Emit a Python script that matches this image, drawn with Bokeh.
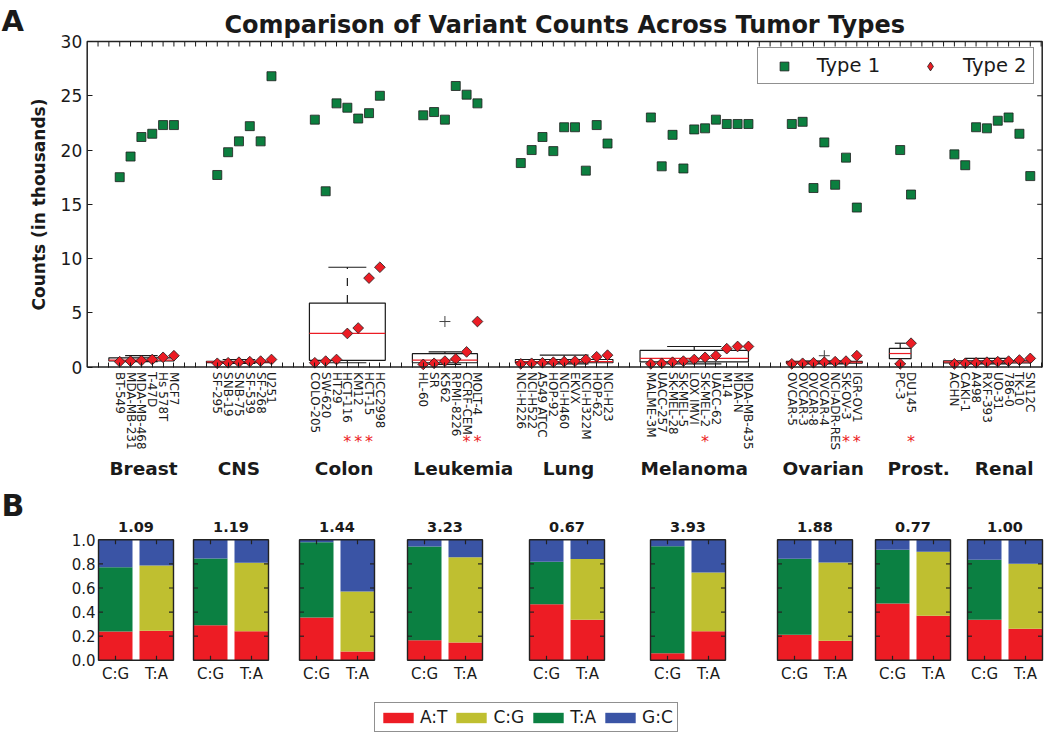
import numpy as np
from bokeh.plotting import figure
from bokeh.models import (Range1d, FixedTicker, PrintfTickFormatter, Legend, LegendItem,
                          ColumnDataSource, AllLabels)
from bokeh.layouts import column
from bokeh.embed import file_html
from bokeh.resources import INLINE
from bokeh.core.properties import value

# ---------------- data ----------------
tumor_types = ["Breast", "CNS", "Colon", "Leukemia", "Lung", "Melanoma", "Ovarian", "Prost.", "Renal"]

breast_lines = ["BT-549", "MDA-MB-231", "MDA-MB-468", "T-47D", "Hs 578T", "MCF7"]
cns_lines = ["SF-295", "SNB-19", "SNB-75", "SF-539", "SF-268", "U251"]
colon_lines = ["COLO-205", "SW-620", "HT29", "HCT-116", "KM12", "HCT-15", "HCC2998"]
leukemia_lines = ["HL-60", "SR", "K562", "RPMI-8226", "CCRF-CEM", "MOLT-4"]
lung_lines = ["NCI-H226", "NCI-H522", "A549 ATCC", "HOP-92", "NCI-H460", "EKVX", "NCI-H322M", "HOP-62", "NCI-H23"]
melanoma_lines = ["MALME-3M", "UACC-257", "SK-MEL-28", "SK-MEL-5", "LOX IMVI", "SK-MEL-2", "UACC-62", "M14", "MDA-N", "MDA-MB-435"]
ovarian_lines = ["OVCAR-5", "OVCAR-3", "OVCAR-8", "OVCAR-4", "NCI-ADR-RES", "SK-OV-3", "IGR-OV1"]
prost_lines = ["PC-3", "DU145"]
renal_lines = ["ACHN", "CAKI-1", "A498", "RXF-393", "UO-31", "786-0", "TK-10", "SN12C"]

breast_type1 = [17.5, 19.4, 21.2, 21.5, 22.3, 22.3]
cns_type1 = [17.7, 19.8, 20.8, 22.2, 20.8, 26.8]
colon_type1 = [22.8, 16.2, 24.3, 23.9, 22.9, 23.4, 25.0]
leukemia_type1 = [23.2, 23.5, 22.8, 25.9, 25.1, 24.3]
lung_type1 = [18.8, 20.0, 21.2, 19.9, 22.1, 22.1, 18.1, 22.3, 20.6]
melanoma_type1 = [23.0, 18.5, 21.4, 18.3, 21.9, 22.0, 22.8, 22.4, 22.4, 22.4]
ovarian_type1 = [22.4, 22.6, 16.5, 20.7, 16.8, 19.3, 14.7]
prost_type1 = [20.0, 15.9]
renal_type1 = [19.6, 18.6, 22.1, 22.0, 22.7, 23.0, 21.5, 17.6]

breast_type2 = [0.5, 0.55, 0.6, 0.7, 0.9, 1.05]
cns_type2 = [0.35, 0.4, 0.45, 0.5, 0.55, 0.7]
colon_type2 = [0.4, 0.55, 0.7, 3.1, 3.6, 8.2, 9.2]
leukemia_type2 = [0.25, 0.35, 0.55, 0.75, 1.4, 4.2]
lung_type2 = [0.3, 0.35, 0.4, 0.45, 0.5, 0.55, 0.7, 0.95, 1.1]
melanoma_type2 = [0.3, 0.35, 0.45, 0.55, 0.7, 0.9, 1.05, 1.7, 1.9, 1.9]
ovarian_type2 = [0.3, 0.35, 0.4, 0.45, 0.5, 0.55, 1.05]
prost_type2 = [0.3, 2.2]
renal_type2 = [0.3, 0.35, 0.4, 0.45, 0.5, 0.55, 0.65, 0.8]

significant_lines = ["HCT-116", "KM12", "HCT-15", "CCRF-CEM", "MOLT-4", "SK-MEL-2", "SK-OV-3", "IGR-OV1", "DU145"]

# panel B: fraction of substitutions per reference base pair
ratios = [1.09, 1.19, 1.44, 3.23, 0.67, 3.93, 1.88, 0.77, 1.00]
bar_names = ["C:G", "T:A"]
cg_to_at = [0.240, 0.290, 0.355, 0.167, 0.466, 0.059, 0.212, 0.472, 0.336]
cg_to_ta = [0.533, 0.554, 0.625, 0.777, 0.352, 0.888, 0.631, 0.446, 0.498]
cg_to_gc = [0.227, 0.156, 0.020, 0.056, 0.182, 0.053, 0.157, 0.082, 0.166]
ta_to_at = [0.245, 0.242, 0.073, 0.148, 0.336, 0.242, 0.162, 0.369, 0.261]
ta_to_cg = [0.542, 0.567, 0.498, 0.708, 0.504, 0.487, 0.650, 0.532, 0.540]
ta_to_gc = [0.213, 0.191, 0.429, 0.144, 0.160, 0.271, 0.188, 0.099, 0.199]
mutation_names = ["A:T", "C:G", "T:A", "G:C"]

cell_lines = [breast_lines, cns_lines, colon_lines, leukemia_lines, lung_lines,
              melanoma_lines, ovarian_lines, prost_lines, renal_lines]
type1 = [breast_type1, cns_type1, colon_type1, leukemia_type1, lung_type1,
         melanoma_type1, ovarian_type1, prost_type1, renal_type1]
type2 = [breast_type2, cns_type2, colon_type2, leukemia_type2, lung_type2,
         melanoma_type2, ovarian_type2, prost_type2, renal_type2]

# ---------------- style / layout ----------------
FONT = "DejaVu Sans"
INK = "#1a1a1a"
GREEN = "#0c7f3f"
RED = "#ec1c24"
C_AT = "#ed1c24"
C_CG = "#bfbf30"
C_TA = "#0b8042"
C_GC = "#3a54a5"
GAP = 3
W, H_TOP, H_BOT = 1050, 485, 252
group_label_x = [2.2, 11.0, 20.7, 31.7, 41.4, 53.0, 64.9, 73.7, 81.6]
panel_left = [98, 193, 299, 407, 529, 650, 777, 875, 967]
PANEL_W = 75
BAR_W = 34

def bl(py, size):
    """pixel row for an 'alphabetic' text anchor so that the glyph baseline lands on py"""
    return py - 0.336 * size

# slot positions
group_x = []
pos = 0
for names in cell_lines:
    group_x.append(list(range(pos, pos + len(names))))
    pos += len(names) + GAP
last = group_x[-1][-1]
PLOT_L, PLOT_R = -3, last + 1.1

all_x = [x for g in group_x for x in g]
all_names = [n for g in cell_lines for n in g]
all_t1 = [v for g in type1 for v in g]
all_t2 = [v for g in type2 for v in g]

# pixel geometry of panel A box
BOX_L, BOX_R, BOX_T, BOX_B = 86.7, 1041.7, 41.0, 366.6
SX = (BOX_R - BOX_L) / (PLOT_R - PLOT_L)
SY = (BOX_B - BOX_T) / 30.0
def ax(px): return PLOT_L + (px - BOX_L) / SX
def ay(py): return (BOX_B - py) / SY

# ================= Panel A =================
p = figure(width=W, height=H_TOP, x_range=Range1d(ax(0), ax(W)), y_range=Range1d(ay(H_TOP), ay(0)),
           output_backend="svg", toolbar_location=None,
           min_border_left=0, min_border_right=0, min_border_top=0, min_border_bottom=0)
p.title.visible = False
p.outline_line_color = None
p.xgrid.visible = False
p.ygrid.visible = False

ya = p.yaxis[0]
ya.fixed_location = PLOT_L
ya.bounds = (0, 30)
ya.ticker = FixedTicker(ticks=list(range(0, 31, 5)))
ya.major_label_text_font = FONT
ya.major_label_text_font_size = "17px"
ya.major_label_text_color = INK
ya.major_tick_in = 5
ya.major_tick_out = 0
ya.major_tick_line_color = INK
ya.minor_tick_line_color = None
ya.axis_line_color = None
ya.major_label_standoff = 5
ya.axis_label = "Counts (in thousands)"
ya.axis_label_text_font = FONT
ya.axis_label_text_font_size = "17px"
ya.axis_label_text_font_style = "bold"
ya.axis_label_text_color = INK
ya.axis_label_standoff = 9

slots = list(range(PLOT_L + 1, last + 2))
label_map = {x: n for x, n in zip(all_x, all_names)}
xa = p.xaxis[0]
xa.fixed_location = 0
xa.bounds = (PLOT_L, PLOT_R)
xa.ticker = FixedTicker(ticks=slots)
xa.major_label_overrides = {s: label_map.get(s, "") for s in slots}
xa.major_label_orientation = "vertical"
xa.major_label_policy = AllLabels()
xa.major_label_text_font = FONT
xa.major_label_text_font_size = "12px"
xa.major_label_text_color = INK
xa.major_tick_in = 5
xa.major_tick_out = 0
xa.major_tick_line_color = INK
xa.minor_tick_line_color = None
xa.axis_line_color = None
xa.major_label_standoff = 5

# top and right inward ticks
p.segment(x0=slots, y0=[30] * len(slots), x1=slots, y1=[30 - 5 / SY] * len(slots),
          line_color=INK, line_width=1)
yt = list(range(5, 30, 5))
p.segment(x0=[PLOT_R] * len(yt), y0=yt, x1=[PLOT_R - 5 / SX] * len(yt), y1=yt,
          line_color=INK, line_width=1)

# box plots of type 2 counts
bx = dict(l=[], r=[], q1=[], q3=[], med=[], c=[], wlo=[], whi=[], cl=[], cr=[])
fl_x, fl_y = [], []
for xs, vals in zip(group_x, type2):
    v = np.array(vals, dtype=float)
    n = len(v)
    c = float(np.floor(np.mean(xs)))
    q1, med, q3 = np.percentile(v, [25, 50, 75])
    iqr = q3 - q1
    lo, hi = q1 - 1.5 * iqr, q3 + 1.5 * iqr
    inside = v[(v >= lo) & (v <= hi)]
    bx["l"].append(c - n / 2); bx["r"].append(c + n / 2)
    bx["q1"].append(q1); bx["q3"].append(q3); bx["med"].append(med)
    bx["c"].append(c); bx["wlo"].append(inside.min()); bx["whi"].append(inside.max())
    bx["cl"].append(c - n / 4); bx["cr"].append(c + n / 4)
    for f in v[(v < lo) | (v > hi)]:
        fl_x.append(c); fl_y.append(f)
bsrc = ColumnDataSource(bx)
p.segment(x0="c", y0="q3", x1="c", y1="whi", source=bsrc, line_color=INK, line_width=1.2, line_dash="8 9")
p.segment(x0="c", y0="q1", x1="c", y1="wlo", source=bsrc, line_color=INK, line_width=1.2, line_dash="8 9")
p.segment(x0="cl", y0="whi", x1="cr", y1="whi", source=bsrc, line_color=INK, line_width=1.2)
p.segment(x0="cl", y0="wlo", x1="cr", y1="wlo", source=bsrc, line_color=INK, line_width=1.2)
p.quad(left="l", right="r", bottom="q1", top="q3", source=bsrc, fill_color=None,
       line_color=INK, line_width=1.2)
p.segment(x0="l", y0="med", x1="r", y1="med", source=bsrc, line_color=RED, line_width=1.2)
p.scatter(x=fl_x, y=fl_y, marker="cross", size=11, line_color="#444444", line_width=1)

# points
p.scatter(x=all_x, y=all_t1, marker="square", size=9, fill_color=GREEN,
          line_color="#1e1e1e", line_width=0.8)
p.scatter(x=all_x, y=all_t2, marker="square", angle=np.pi / 4, size=7.6, fill_color=RED,
          line_color="#1e1e1e", line_width=0.8)

# plot box
p.quad(left=[PLOT_L], right=[PLOT_R], bottom=[0], top=[30], fill_color=None,
       line_color="#222222", line_width=1.5)

# legend (swatch renderers sit outside the visible range)
leg1 = p.scatter(x=[ax(-500)], y=[0], marker="square", fill_color=GREEN, line_color="#1e1e1e", line_width=0.8)
leg2 = p.scatter(x=[ax(-500)], y=[0], marker="diamond", fill_color=RED, line_color="#1e1e1e", line_width=0.8)
lgA = Legend(items=[LegendItem(label="Type 1", renderers=[leg1]),
                    LegendItem(label="Type 2", renderers=[leg2])],
             location=(BOX_L + 670, H_TOP - 84), orientation="horizontal", glyph_width=40, glyph_height=22,
             label_standoff=13, spacing=30, padding=6, margin=0,
             label_text_font=FONT, label_text_font_size="19.5px", label_text_color=INK,
             border_line_color="#222222", border_line_width=1.3, background_fill_alpha=1)
p.add_layout(lgA)

# title, panel letter, significance stars and group names
p.text(x=[(PLOT_L + PLOT_R) / 2], y=[ay(bl(32.3, 24))], text=["Comparison of Variant Counts Across Tumor Types"],
       text_font=value(FONT), text_font_size="24px", text_font_style="bold", text_color=INK,
       text_align="center", text_baseline="alphabetic")
p.text(x=[ax(1)], y=[ay(bl(30, 29))], text=["A"], text_font=value(FONT), text_font_size="29px",
       text_font_style="bold", text_color=INK, text_align="left", text_baseline="alphabetic")
star_x = [x for x, n in zip(all_x, all_names) if n in significant_lines]
p.text(x=star_x, y=[ay(bl(449.5, 16) - 3)] * len(star_x), text=["*"] * len(star_x), text_color=RED,
       text_font=value(FONT), text_font_size="16px", text_align="center", text_baseline="alphabetic")
p.text(x=group_label_x, y=[ay(bl(474, 18.5))] * len(tumor_types), text=tumor_types, text_color=INK,
       text_font=value(FONT), text_font_size="18.5px", text_font_style="bold",
       text_align="center", text_baseline="alphabetic")

# ================= Panel B =================
Y1_PX, Y0_PX = 539.3, 659.8
YPX = Y0_PX - Y1_PX
def by(py): return (Y0_PX - py) / YPX

pb = figure(width=W, height=H_BOT, x_range=Range1d(0, W), y_range=Range1d(by(H_TOP + H_BOT), by(H_TOP)),
            output_backend="svg", toolbar_location=None, x_axis_location=None,
            min_border_left=0, min_border_right=0, min_border_top=0, min_border_bottom=0)
pb.title.visible = False
pb.outline_line_color = None
pb.xgrid.visible = False
pb.ygrid.visible = False
yb = pb.yaxis[0]
yb.fixed_location = panel_left[0]
yb.bounds = (0, 1)
yb.ticker = FixedTicker(ticks=[0, 0.2, 0.4, 0.6, 0.8, 1.0])
yb.formatter = PrintfTickFormatter(format="%.1f")
yb.major_tick_in = 0
yb.major_tick_out = 0
yb.minor_tick_line_color = None
yb.axis_line_color = None
yb.major_label_standoff = 3
yb.major_label_text_font = FONT
yb.major_label_text_font_size = "15px"
yb.major_label_text_color = INK

cg_c = [l + BAR_W / 2 for l in panel_left]
ta_c = [l + PANEL_W - BAR_W / 2 for l in panel_left]

def bars(centers, bottoms, heights):
    return dict(left=[c - BAR_W / 2 for c in centers], right=[c + BAR_W / 2 for c in centers],
                bottom=list(bottoms), top=[b + h for b, h in zip(bottoms, heights)])

def merge(a, b):
    return {k: a[k] + b[k] for k in a}

zeros = [0.0] * len(panel_left)
at_src = ColumnDataSource(merge(bars(cg_c, zeros, cg_to_at), bars(ta_c, zeros, ta_to_at)))
cg_src = ColumnDataSource(bars(ta_c, ta_to_at, ta_to_cg))
ta_src = ColumnDataSource(bars(cg_c, cg_to_at, cg_to_ta))
gc_b1 = [a + b for a, b in zip(cg_to_at, cg_to_ta)]
gc_b2 = [a + b for a, b in zip(ta_to_at, ta_to_cg)]
gc_src = ColumnDataSource(merge(bars(cg_c, gc_b1, cg_to_gc), bars(ta_c, gc_b2, ta_to_gc)))

r_at = pb.quad(left="left", right="right", bottom="bottom", top="top", source=at_src,
               fill_color=C_AT, line_color=None)
r_cg = pb.quad(left="left", right="right", bottom="bottom", top="top", source=cg_src,
               fill_color=C_CG, line_color=None)
r_ta = pb.quad(left="left", right="right", bottom="bottom", top="top", source=ta_src,
               fill_color=C_TA, line_color=None)
r_gc = pb.quad(left="left", right="right", bottom="bottom", top="top", source=gc_src,
               fill_color=C_GC, line_color=None)

# panel frames
pr = [l + PANEL_W for l in panel_left]
pb.quad(left=panel_left, right=pr, bottom=zeros, top=[1.0] * len(panel_left),
        fill_color=None, line_color="#222222", line_width=1.4)
# inward ticks
TK = 4.5
tx0, ty0, tx1, ty1 = [], [], [], []
for l, r, c1, c2 in zip(panel_left, pr, cg_c, ta_c):
    for yv in [0.2, 0.4, 0.6, 0.8]:
        tx0 += [l, r]; tx1 += [l + TK, r - TK]; ty0 += [yv, yv]; ty1 += [yv, yv]
    for xc in [c1, c2]:
        tx0 += [xc, xc]; tx1 += [xc, xc]; ty0 += [0, 1]; ty1 += [TK / YPX, 1 - TK / YPX]
pb.segment(x0=tx0, y0=ty0, x1=tx1, y1=ty1, line_color="#222222", line_width=1.2)

# ratio titles
pb.text(x=[l + PANEL_W / 2 for l in panel_left], y=[by(bl(531.7, 14.5))] * len(ratios),
        text=["%.2f" % r for r in ratios], text_font=value(FONT), text_font_size="14.5px",
        text_font_style="bold", text_color=INK, text_align="center", text_baseline="alphabetic")
# bar names
pb.text(x=cg_c + ta_c, y=[by(bl(678.5, 15))] * (2 * len(panel_left)),
        text=[bar_names[0]] * len(cg_c) + [bar_names[1]] * len(ta_c),
        text_font=value(FONT), text_font_size="15px", text_color=INK,
        text_align="center", text_baseline="alphabetic")
pb.text(x=[1], y=[by(bl(515, 30))], text=["B"], text_font=value(FONT), text_font_size="30px",
        text_font_style="bold", text_color=INK, text_align="left", text_baseline="alphabetic")

lgB = Legend(items=[LegendItem(label=mutation_names[0], renderers=[r_at]),
                    LegendItem(label=mutation_names[1], renderers=[r_cg]),
                    LegendItem(label=mutation_names[2], renderers=[r_ta]),
                    LegendItem(label=mutation_names[3], renderers=[r_gc])],
             location=(374, 5), orientation="horizontal", glyph_width=38, glyph_height=13,
             label_standoff=3, spacing=5, padding=4, margin=0,
             label_text_font=FONT, label_text_font_size="17px", label_text_color=INK,
             border_line_color="#222222", border_line_width=1.2, background_fill_alpha=1)
pb.add_layout(lgB)

layout = column(p, pb)
open("out.html", "w").write(file_html(layout, INLINE))
